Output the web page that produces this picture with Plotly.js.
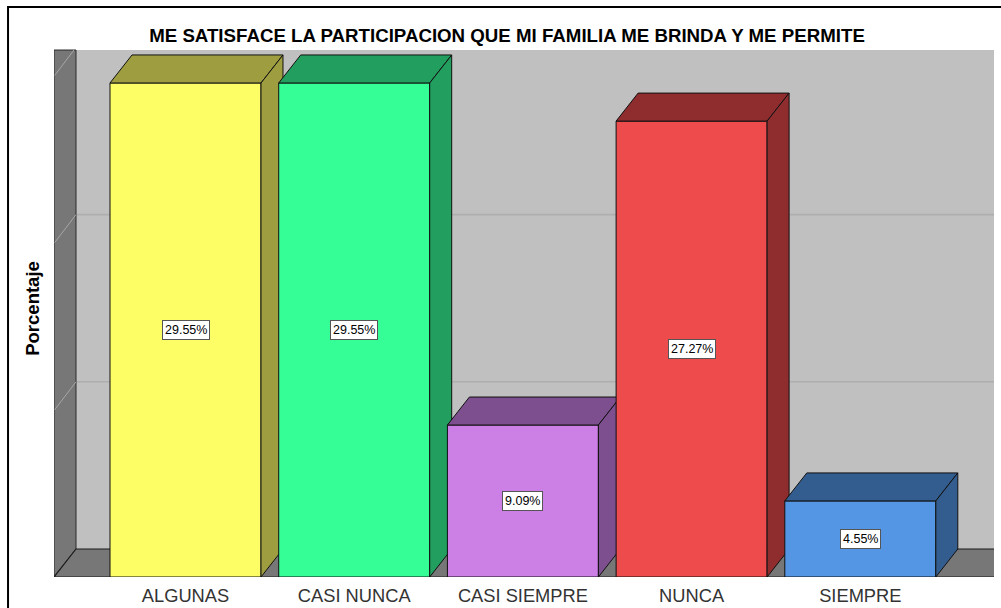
<!DOCTYPE html>
<html>
<head>
<meta charset="utf-8">
<script src="https://cdn.plot.ly/plotly-3.0.1.min.js"></script>
<style>html,body{margin:0;padding:0;background:#fff;}#chart{width:1001px;height:608px;}</style>
</head>
<body>
<div id="chart"></div>
<script>
// ---- data ----
const categories = ['ALGUNAS', 'CASI NUNCA', 'CASI SIEMPRE', 'NUNCA', 'SIEMPRE'];
const percentages = [29.55, 29.55, 9.09, 27.27, 4.55];
const frontColors = ['#FDFD66', '#36FE96', '#CC80E5', '#EE4B4D', '#5596E4'];
const sideColors = ['#9E9E40', '#229E5F', '#7E4F8E', '#8F2C2E', '#345D8F'];
const gridValues = [10, 20, 30];
const chartTitle = 'ME SATISFACE LA PARTICIPACION QUE MI FAMILIA ME BRINDA Y ME PERMITE';
const yTitle = 'Porcentaje';

// ---- geometry (oblique 3D look) ----
const BAR_W = 0.895;
const DX = 0.1304;      // depth offset in x units
const DY = 1.675;       // depth offset in y units
const X_MIN = -0.7795, X_MAX = 4.7925;
const WALL_TOP = 31.52;
const Y_MAX = 32.12;
const FONT = 'Arial, "Liberation Sans", sans-serif';

const traces = [];
function poly(xs, ys, fill, lineColor, lineWidth) {
  traces.push({
    type: 'scatter', mode: 'lines', x: xs.concat([xs[0]]), y: ys.concat([ys[0]]),
    fill: 'toself', fillcolor: fill,
    line: {color: lineColor, width: lineWidth},
    hoverinfo: 'skip', showlegend: false
  });
}
function seg(xs, ys, color, width) {
  traces.push({
    type: 'scatter', mode: 'lines', x: xs, y: ys,
    line: {color: color, width: width},
    hoverinfo: 'skip', showlegend: false
  });
}

// back wall
poly([X_MIN + DX, X_MAX + 1, X_MAX + 1, X_MIN + DX], [DY, DY, WALL_TOP, WALL_TOP], '#C0C0C0', '#C0C0C0', 0);
// back wall gridlines
gridValues.forEach(g => {
  if (g + DY <= WALL_TOP) seg([X_MIN + DX, X_MAX + 1], [g + DY, g + DY], '#AEAEAE', 1.6);
});
// left wall
poly([X_MIN, X_MIN + DX, X_MIN + DX, X_MIN], [0, DY, WALL_TOP, WALL_TOP], '#777777', '#2a2a2a', 1);
// left wall gridlines
gridValues.forEach(g => {
  const t = Math.min(1, (WALL_TOP - g) / DY);
  if (t > 0) seg([X_MIN + 0.004, X_MIN + DX * t], [g, g + DY * t], '#A6A6A6', 1);
});
// floor
poly([X_MIN, X_MAX + 1, X_MAX + 1 + DX, X_MIN + DX], [0, 0, DY, DY], '#777777', '#1a1a1a', 1.2);

// bars: front, top, side (left to right for correct overlap)
const annotations = [];
categories.forEach((c, i) => {
  const v = percentages[i];
  const l = i - BAR_W / 2, r = i + BAR_W / 2;
  poly([l, r, r, l], [0, 0, v, v], frontColors[i], '#111111', 1);
  poly([l, r, r + DX, l + DX], [v, v, v + DY, v + DY], sideColors[i], '#111111', 1);
  poly([r, r + DX, r + DX, r], [0, DY, v + DY, v], sideColors[i], '#111111', 1);
  annotations.push({
    x: i, y: v / 2, xref: 'x', yref: 'y', text: v.toFixed(2) + '%', showarrow: false,
    font: {family: FONT, size: 12.5, color: '#000'}, bgcolor: '#FFFFFF',
    bordercolor: '#555555', borderwidth: 1, borderpad: 2
  });
});

const layout = {
  width: 1001, height: 608,
  margin: {l: 54, r: 7, t: 40, b: 31},
  paper_bgcolor: '#FFFFFF', plot_bgcolor: '#FFFFFF',
  font: {family: FONT},
  title: {
    text: chartTitle, xref: 'container', yref: 'container', x: 0.5065, y: 0.941,
    xanchor: 'center', yanchor: 'middle',
    font: {family: FONT, size: 18.7, weight: 700, color: '#000'}
  },
  xaxis: {
    range: [X_MIN, X_MAX], showgrid: false, zeroline: false, showline: false,
    tickvals: categories.map((c, i) => i), ticktext: categories, ticks: '',
    ticklabelstandoff: 6,
    tickfont: {family: FONT, size: 18.3, color: '#333333'}, fixedrange: true
  },
  yaxis: {
    range: [0, Y_MAX], showgrid: false, zeroline: false, showline: false,
    showticklabels: false, ticks: '', fixedrange: true,
    title: {text: yTitle, standoff: 8, font: {family: FONT, size: 18.5, weight: 700, color: '#000'}}
  },
  annotations: annotations,
  shapes: [{
    type: 'rect', xref: 'paper', yref: 'paper',
    x0: -0.0489, x1: 1.02, y0: -0.2, y1: 1.0615,
    line: {color: '#000', width: 2}, fillcolor: 'rgba(0,0,0,0)'
  }],
  showlegend: false
};

Plotly.newPlot('chart', traces, layout, {displayModeBar: false, staticPlot: true});
</script>
</body>
</html>
